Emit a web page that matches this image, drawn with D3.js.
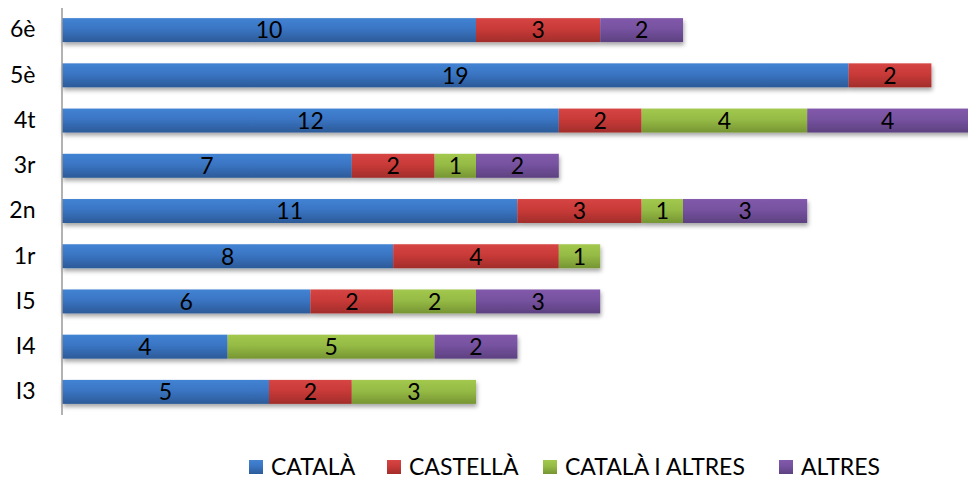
<!DOCTYPE html>
<html lang="ca">
  <head>
    <meta charset="UTF-8" />
    <title>Llengua per curs</title>
    <script src="https://d3js.org/d3.v7.min.js"></script>
    <style>
      body {
        margin: 0;
        background: #fff;
      }
      svg {
        display: block;
        font-family: Lato, "Open Sans", sans-serif;
      }
      .label {
        font-size: 23px;
        fill: #000;
      }
    </style>
  </head>
  <body>
    <svg id="chart" width="968" height="479"></svg>
    <script>
      // data, top to bottom
      const courses = ["6è", "5è", "4t", "3r", "2n", "1r", "I5", "I4", "I3"];
      const series = ["CATALÀ", "CASTELLÀ", "CATALÀ I ALTRES", "ALTRES"];
      const catala = [10, 19, 12, 7, 11, 8, 6, 4, 5];
      const castella = [3, 2, 2, 2, 3, 4, 2, 0, 2];
      const catalaAltres = [0, 0, 4, 1, 1, 1, 2, 5, 3];
      const altres = [2, 0, 4, 2, 3, 0, 3, 2, 0];

      const colors = [
        { top: "#4283d3", mid: "#3a75c3", bot: "#2c5a98" },
        { top: "#d64544", mid: "#c93a38", bot: "#a22d2b" },
        { top: "#a3c84e", mid: "#96bb45", bot: "#769533" },
        { top: "#8259ab", mid: "#7652a0", bot: "#5d4180" },
      ];

      const rows = courses.map((c, i) => ({
        course: c,
        [series[0]]: catala[i],
        [series[1]]: castella[i],
        [series[2]]: catalaAltres[i],
        [series[3]]: altres[i],
      }));

      const width = 968;
      const margin = { left: 62, top: 7.5 };
      const plotH = 407;

      const svg = d3.select("#chart");
      const defs = svg.append("defs");

      colors.forEach((c, i) => {
        const g = defs
          .append("linearGradient")
          .attr("id", "grad" + i)
          .attr("x1", 0)
          .attr("y1", 0)
          .attr("x2", 0)
          .attr("y2", 1);
        g.append("stop").attr("offset", "0%").attr("stop-color", c.top);
        g.append("stop").attr("offset", "45%").attr("stop-color", c.mid);
        g.append("stop").attr("offset", "100%").attr("stop-color", c.bot);
      });

      const shadow = defs
        .append("filter")
        .attr("id", "shadow")
        .attr("x", "-5%")
        .attr("y", "-20%")
        .attr("width", "110%")
        .attr("height", "160%");
      shadow
        .append("feDropShadow")
        .attr("dx", 1)
        .attr("dy", 3)
        .attr("stdDeviation", 2)
        .attr("flood-color", "#000")
        .attr("flood-opacity", 0.35);

      const x = d3
        .scaleLinear()
        .domain([0, 1])
        .range([margin.left, margin.left + 41.4]);

      const y = d3
        .scaleBand()
        .domain(courses)
        .range([margin.top, margin.top + plotH])
        .paddingInner(0.47)
        .paddingOuter(0.235);

      const stack = d3.stack().keys(series)(rows);

      // bars with shadow, one group per course
      const rowG = svg
        .append("g")
        .selectAll("g")
        .data(courses)
        .join("g")
        .attr("filter", "url(#shadow)");

      rowG.each(function (course, ci) {
        const g = d3.select(this);
        stack.forEach((layer, si) => {
          const d = layer[ci];
          if (d[1] - d[0] <= 0) return;
          g.append("rect")
            .attr("x", x(d[0]))
            .attr("y", y(course))
            .attr("width", x(d[1]) - x(d[0]))
            .attr("height", y.bandwidth())
            .attr("fill", `url(#grad${si})`);
        });
      });

      // value labels
      stack.forEach((layer) => {
        svg
          .append("g")
          .selectAll("text")
          .data(layer.filter((d) => d[1] - d[0] > 0))
          .join("text")
          .attr("class", "label")
          .attr("x", (d) => (x(d[0]) + Math.min(x(d[1]), width)) / 2)
          .attr("y", (d) => y(d.data.course) + y.bandwidth() / 2)
          .attr("dy", "0.36em")
          .attr("text-anchor", "middle")
          .text((d) => d[1] - d[0]);
      });

      // category axis
      const axis = svg
        .append("g")
        .attr("transform", `translate(${margin.left - 0.5},0)`)
        .call(d3.axisLeft(y).tickSize(0).tickPadding(26));
      axis.select(".domain").attr("stroke", "#999").attr("stroke-width", 1.5);
      axis
        .selectAll("text")
        .attr("font-size", 23)
        .attr("font-family", "Lato, 'Open Sans', sans-serif")
        .attr("fill", "#000");

      // legend
      const legendX = [249, 387, 543, 779];
      const legend = svg
        .append("g")
        .selectAll("g")
        .data(series)
        .join("g")
        .attr("transform", (d, i) => `translate(${legendX[i]},460)`);
      legend
        .append("rect")
        .attr("width", 14)
        .attr("height", 14)
        .attr("fill", (d, i) => `url(#grad${i})`);
      legend
        .append("text")
        .attr("class", "label")
        .attr("x", 22)
        .attr("y", 7)
        .attr("dy", "0.36em")
        .text((d) => d);
    </script>
  </body>
</html>
